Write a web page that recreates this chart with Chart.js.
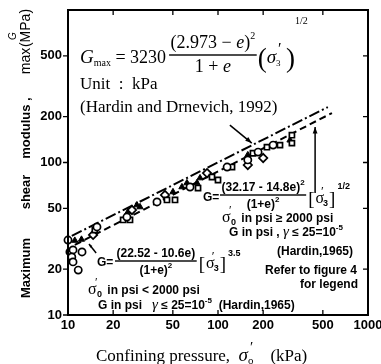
<!DOCTYPE html>
<html>
<head>
<meta charset="utf-8">
<script src="https://cdn.jsdelivr.net/npm/chart.js@4/dist/chart.umd.min.js"></script>
<style>
  html, body { margin: 0; padding: 0; background: #fff; }
</style>
</head>
<body>
<canvas id="chart" width="381" height="364"></canvas>
<script>
// axis ticks
const xTicks = [10, 20, 50, 100, 200, 500, 1000];
const yTicks = [10, 20, 50, 100, 200, 500];

// measured points: confining pressure (kPa) vs Gmax (MPa)
const circleX = [10.0, 10.3, 10.8, 12.4, 10.6, 10.8, 11.7, 15.6, 24.7, 39.2, 65.1, 115, 158, 185, 233];
const circleY = [31.0, 25.9, 26.7, 25.9, 24.0, 22.3, 19.7, 37.8, 43.9, 55.1, 69.1, 93.4, 104, 117, 130];
const squareX = [15.1, 23.3, 25.9, 45.7, 51.7, 73.6, 100, 91.2, 124, 171, 259, 311, 311, 212];
const squareY = [36.1, 42.0, 42.0, 56.8, 56.8, 68.0, 76.8, 80.3, 93.4, 115, 130, 134, 151, 126];
const diamondX = [14.7, 26.7, 44.3, 158, 200, 84.5];
const diamondY = [33.5, 48.8, 61.2, 96.3, 107, 85.3];
const filledX = [11.1, 12.3, 28.8, 30.2, 50.1, 57.5, 62.1, 72.4, 75.9, 158, 302, 25.1];
const filledY = [30.8, 31.3, 52.6, 51.1, 64.1, 69.1, 73.4, 73.4, 79.1, 112, 140, 47.4];

// Hardin (1965) lines
const upperX = [10.6, 540];
const upperY = [33, 231];
const lowerX = [11.1, 575];
const lowerY = [28.8, 211];

const pts = (xs, ys) => xs.map((x, i) => ({ x: x, y: ys[i] }));

const SERIF = '"Liberation Serif", "Times New Roman", serif';
const SANS = '"Liberation Sans", Arial, sans-serif';
const S = (size, style) => (style ? style + ' ' : '') + size + 'px ' + SERIF;
const B = size => 'bold ' + size + 'px ' + SANS;

// draw a row of text pieces [text, font, dy]
function runs(ctx, x, y, parts, draw) {
  let cx = x;
  parts.forEach(p => {
    ctx.font = p[1];
    if (draw !== false) ctx.fillText(p[0], cx, y + (p[2] || 0));
    cx += ctx.measureText(p[0]).width;
  });
  return cx - x;
}

function fraction(ctx, x, yBar, num, den, numDy, denDy) {
  const wn = runs(ctx, 0, 0, num, false);
  const wd = runs(ctx, 0, 0, den, false);
  const w = Math.max(wn, wd) + 3;
  runs(ctx, x + (w - wn) / 2, yBar - numDy, num);
  runs(ctx, x + (w - wd) / 2, yBar + denDy, den);
  ctx.fillRect(x, yBar - 0.7, w, 1.4);
  return w;
}

// [σ'3] bracket group, returns width
function sigmaBracket(ctx, x, y, sub) {
  let cx = x;
  ctx.font = S(19);
  ctx.fillText('[', cx, y + 2);
  cx += ctx.measureText('[').width + 1;
  ctx.font = S(16);
  ctx.fillText('σ', cx, y);
  const ws = ctx.measureText('σ').width;
  ctx.font = S(13);
  ctx.fillText('′', cx + ws - 3, y - 8);
  ctx.font = B(9);
  ctx.fillText(sub, cx + ws - 1, y + 3);
  cx += ws + ctx.measureText(sub).width;
  ctx.font = S(19);
  ctx.fillText(']', cx, y + 2);
  cx += ctx.measureText(']').width;
  return cx - x;
}

function arrow(ctx, x0, y0, x1, y1, head) {
  ctx.beginPath();
  ctx.moveTo(x0, y0);
  ctx.lineTo(x1, y1);
  ctx.stroke();
  const a = Math.atan2(y1 - y0, x1 - x0);
  ctx.beginPath();
  ctx.moveTo(x1, y1);
  ctx.lineTo(x1 - head * Math.cos(a - 0.35), y1 - head * Math.sin(a - 0.35));
  ctx.lineTo(x1 - head * Math.cos(a + 0.35), y1 - head * Math.sin(a + 0.35));
  ctx.closePath();
  ctx.fill();
}

const decor = {
  id: 'decor',
  afterDraw(chart) {
    const ctx = chart.ctx;
    const a = chart.chartArea;
    const xs = chart.scales.x, ys = chart.scales.y;
    ctx.save();
    ctx.fillStyle = '#000';
    ctx.strokeStyle = '#000';

    // frame and ticks
    ctx.lineWidth = 2;
    ctx.strokeRect(a.left, a.top, a.right - a.left, a.bottom - a.top);
    ctx.lineWidth = 1.3;
    ctx.beginPath();
    xTicks.forEach(v => {
      const px = xs.getPixelForValue(v);
      ctx.moveTo(px, a.bottom); ctx.lineTo(px, a.bottom - 5);
      ctx.moveTo(px, a.top); ctx.lineTo(px, a.top + 5);
    });
    yTicks.forEach(v => {
      const py = ys.getPixelForValue(v);
      ctx.moveTo(a.left - 5, py); ctx.lineTo(a.left, py);
      ctx.moveTo(a.right, py); ctx.lineTo(a.right - 5, py);
    });
    ctx.stroke();

    // arrows
    ctx.lineWidth = 1.5;
    arrow(ctx, xs.getPixelForValue(120), ys.getPixelForValue(176), xs.getPixelForValue(168), ys.getPixelForValue(134), 7);
    arrow(ctx, xs.getPixelForValue(444), ys.getPixelForValue(63), xs.getPixelForValue(444), ys.getPixelForValue(171), 7);
    arrow(ctx, xs.getPixelForValue(15.4), ys.getPixelForValue(25.5), xs.getPixelForValue(13.8), ys.getPixelForValue(29.2), 4);

    ctx.textBaseline = 'alphabetic';
    ctx.textAlign = 'left';

    // Hardin and Drnevich formula
    let x = 80;
    x += runs(ctx, x, 63, [['G', S(19, 'italic')], ['max', S(10), 3], [' = 3230', S(18)]]);
    x += 3;
    x += fraction(ctx, x, 55,
      [['(2.973 − ', S(18)], ['e', S(18, 'italic')], [')', S(18)], ['2', S(10), -9]],
      [['1 + ', S(18)], ['e', S(18, 'italic')]], 7, 17);
    ctx.font = S(27);
    ctx.fillText('(', x + 1, 67);
    x += ctx.measureText('(').width + 1;
    ctx.font = S(19, 'italic');
    ctx.fillText('σ', x, 63);
    const wsig = ctx.measureText('σ').width;
    ctx.font = S(9);
    ctx.fillText('3', x + wsig, 66);
    ctx.font = S(16);
    ctx.fillText('′', x + wsig + 2, 54);
    x += wsig + 10;
    ctx.font = S(27);
    ctx.fillText(')', x, 67);
    x += ctx.measureText(')').width;
    ctx.font = S(10);
    ctx.fillText('1/2', x, 24);

    ctx.font = S(17);
    ctx.fillText('Unit  :  kPa', 80, 89);
    ctx.fillText('(Hardin and Drnevich, 1992)', 80, 112);

    // Hardin (1965), high pressure
    runs(ctx, 203, 201, [['G=', B(12)]]);
    let w = fraction(ctx, 220, 195,
      [['(32.17 - 14.8e)', B(12)], ['2', B(8), -6]],
      [['(1+e)', B(12)], ['2', B(8), -6]], 4, 13);
    w += sigmaBracket(ctx, 220 + w + 2, 203, '3');
    ctx.font = B(9);
    ctx.fillText('1/2', 220 + w + 4, 189);

    ctx.font = S(16);
    ctx.fillText('σ', 222, 222);
    ctx.font = S(12);
    ctx.fillText('′', 229, 214);
    runs(ctx, 231, 225, [['0', B(9)]]);
    runs(ctx, 238, 222, [[' in psi ≥ 2000 psi', B(12)]]);
    runs(ctx, 229, 236, [['G in psi , ', B(12)], ['γ', S(15, 'italic')], [' ≤ 25=10', B(12)], ['-5', B(8), -6]]);
    runs(ctx, 277, 255, [['(Hardin,1965)', B(12)]]);
    runs(ctx, 265, 274, [['Refer to figure 4', B(12)]]);
    runs(ctx, 300, 288, [['for legend', B(12)]]);

    // Hardin (1965), low pressure
    runs(ctx, 97, 266, [['G=', B(12)]]);
    w = fraction(ctx, 115, 261,
      [['(22.52 - 10.6e)', B(12)]],
      [['(1+e)', B(12)], ['2', B(8), -6]], 4, 13);
    w += sigmaBracket(ctx, 115 + w + 2, 268, '3');
    ctx.font = B(9);
    ctx.fillText('3.5', 115 + w + 4, 256);

    ctx.font = S(16);
    ctx.fillText('σ', 88, 294);
    ctx.font = S(12);
    ctx.fillText('′', 95, 286);
    runs(ctx, 97, 297, [['0', B(9)]]);
    runs(ctx, 104, 294, [[' in psi < 2000 psi', B(12)]]);
    runs(ctx, 98, 309, [['G in psi   ', B(12)], ['γ', S(15, 'italic')], [' ≤ 25=10', B(12)], ['-5', B(8), -6], ['  (Hardin,1965)', B(12)]]);

    // x axis title
    x = 96;
    x += runs(ctx, x, 361, [['Confining pressure,  ', S(17)], ['σ', S(19, 'italic')]]);
    ctx.font = S(11);
    ctx.fillText('o', x, 364);
    ctx.font = S(15);
    ctx.fillText('′', x + 2, 352);
    runs(ctx, x + 14, 361, [['  (kPa)', S(17)]]);

    // y axis title (rotated)
    ctx.translate(30, 0);
    ctx.rotate(-Math.PI / 2);
    ctx.textAlign = 'center';
    ctx.font = B(13);
    ctx.fillText('Maximum', -268, 0);
    ctx.fillText('shear', -192, 0);
    ctx.fillText('modulus ,', -128, 0);
    ctx.font = '14px ' + SANS;
    ctx.fillText('max', -61, 0);
    ctx.fillText('(MPa)', -28, 0);
    ctx.font = 'italic 10px ' + SANS;
    ctx.fillText('G', -36, -14);
    ctx.restore();
  }
};

const openPoint = (label, data, style, r) => ({
  label: label,
  data: data,
  pointStyle: style,
  pointRadius: r,
  pointBorderWidth: 1.7,
  pointBorderColor: '#000',
  pointBackgroundColor: '#fff',
  showLine: false,
  clip: false
});

new Chart(document.getElementById('chart'), {
  type: 'scatter',
  data: {
    datasets: [
      openPoint('circles', pts(circleX, circleY), 'circle', 3.6),
      openPoint('squares', pts(squareX, squareY), 'rect', 3.6),
      openPoint('diamonds', pts(diamondX, diamondY), 'rectRot', 4.2),
      {
        label: 'filled',
        data: pts(filledX, filledY),
        pointStyle: 'triangle',
        pointRadius: 3.6,
        pointBorderWidth: 1,
        pointBorderColor: '#000',
        pointBackgroundColor: '#000',
        showLine: false,
        clip: false
      },
      {
        label: 'upper',
        data: pts(upperX, upperY),
        showLine: true,
        borderColor: '#000',
        borderWidth: 2,
        borderDash: [11, 3, 2, 3],
        pointRadius: 0
      },
      {
        label: 'lower',
        data: pts(lowerX, lowerY),
        showLine: true,
        borderColor: '#000',
        borderWidth: 2,
        borderDash: [7, 4],
        pointRadius: 0
      }
    ]
  },
  options: {
    responsive: false,
    devicePixelRatio: 1,
    animation: false,
    layout: { padding: { left: 0, right: 13, top: 10, bottom: 0 } },
    plugins: { legend: { display: false }, tooltip: { enabled: false } },
    scales: {
      x: {
        type: 'logarithmic',
        min: 10,
        max: 1000,
        afterBuildTicks: axis => { axis.ticks = xTicks.map(v => ({ value: v })); },
        afterFit: s => { s.height = 49; s.paddingLeft = 0; s.paddingRight = 0; },
        grid: { display: false, drawTicks: false },
        border: { display: false },
        ticks: {
          autoSkip: false,
          maxRotation: 0,
          padding: 3,
          color: '#000',
          font: { family: SANS, size: 13, weight: 'bold' },
          callback: v => String(v)
        }
      },
      y: {
        type: 'logarithmic',
        min: 10,
        max: 1000,
        afterBuildTicks: axis => { axis.ticks = yTicks.map(v => ({ value: v })); },
        afterFit: s => { s.width = 68; s.paddingTop = 0; s.paddingBottom = 0; },
        grid: { display: false, drawTicks: false },
        border: { display: false },
        ticks: {
          autoSkip: false,
          padding: 6,
          color: '#000',
          font: { family: SANS, size: 13, weight: 'bold' },
          callback: v => String(v)
        }
      }
    }
  },
  plugins: [decor]
});
</script>
</body>
</html>
